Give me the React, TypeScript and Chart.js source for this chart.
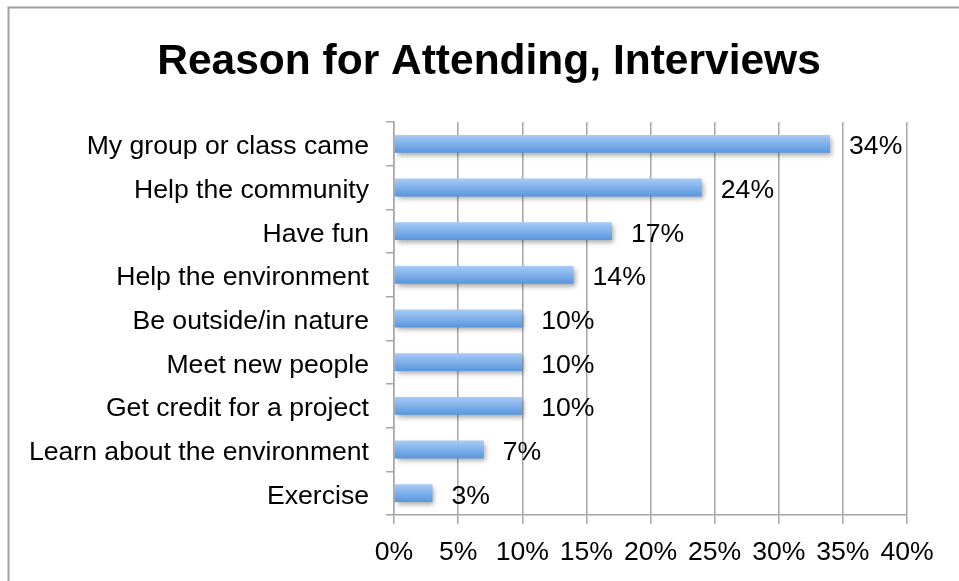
import React, { useEffect, useRef } from "react";
import { Chart, registerables } from "chart.js";

Chart.register(...registerables);

const TITLE = "Reason for Attending, Interviews";
const categories = [
  "My group or class came",
  "Help the community",
  "Have fun",
  "Help the environment",
  "Be outside/in nature",
  "Meet new people",
  "Get credit for a project",
  "Learn about the environment",
  "Exercise",
];
const values = [34, 24, 17, 14, 10, 10, 10, 7, 3];
const xTickMin = 0;
const xTickMax = 40;
const xTickStep = 5;

const FONT = "'Liberation Sans', Arial, Helvetica, sans-serif";
const GRID = "#a6a6a6";
const LABEL_SIZE = 26.6;

const framePlugin = {
  id: "frame",
  beforeDraw(chart: any) {
    const ctx = chart.ctx;
    ctx.save();
    ctx.fillStyle = "#ffffff";
    ctx.fillRect(0, 0, chart.width, chart.height);
    ctx.strokeStyle = "#a0a0a0";
    ctx.lineWidth = 2;
    ctx.beginPath();
    ctx.moveTo(8.5, chart.height);
    ctx.lineTo(8.5, 7.5);
    ctx.lineTo(chart.width, 7.5);
    ctx.stroke();
    ctx.restore();
  },
};

const titlePlugin = {
  id: "customTitle",
  afterDraw(chart: any) {
    const ctx = chart.ctx;
    ctx.save();
    ctx.font = `bold 42.5px ${FONT}`;
    ctx.fillStyle = "#000";
    ctx.textAlign = "center";
    ctx.textBaseline = "middle";
    ctx.fillText(TITLE, 489, 62);
    ctx.restore();
  },
};

const shadowPlugin = {
  id: "barShadow",
  beforeDatasetsDraw(chart: any) {
    const ctx = chart.ctx;
    ctx.save();
    ctx.shadowColor = "rgba(0,0,0,0.35)";
    ctx.shadowBlur = 5;
    ctx.shadowOffsetX = 2;
    ctx.shadowOffsetY = 3;
  },
  afterDatasetsDraw(chart: any) {
    chart.ctx.restore();
  },
};

const labelPlugin = {
  id: "valueLabels",
  afterDatasetsDraw(chart: any) {
    const ctx = chart.ctx;
    const meta = chart.getDatasetMeta(0);
    ctx.save();
    ctx.font = `${LABEL_SIZE}px ${FONT}`;
    ctx.fillStyle = "#000";
    ctx.textAlign = "left";
    ctx.textBaseline = "middle";
    meta.data.forEach((el: any, i: number) => {
      ctx.fillText(`${values[i]}%`, el.x + 19, el.y + 3);
    });
    ctx.restore();
  },
};

export default function App() {
  const ref = useRef<HTMLCanvasElement>(null);
  useEffect(() => {
    if (!ref.current) return;
    const barPct = 0.41;
    const chart = new Chart(ref.current, {
      type: "bar",
      data: {
        labels: categories,
        datasets: [
          {
            data: values,
            backgroundColor: (c: any) => {
              const ch = c.chart;
              const ys = ch.scales && ch.scales.y;
              if (!ys || c.dataIndex === undefined || !ch.chartArea) return "#7fb0ea";
              const yc = ys.getPixelForValue(c.dataIndex);
              const band = Math.abs(ys.getPixelForValue(1) - ys.getPixelForValue(0)) || 43;
              const h = band * barPct;
              const g = ch.ctx.createLinearGradient(0, yc - h / 2, 0, yc + h / 2);
              g.addColorStop(0, "#a8cbf6");
              g.addColorStop(1, "#5796dd");
              return g;
            },
            borderWidth: 0,
            barPercentage: barPct,
            categoryPercentage: 1,
          },
        ],
      },
      options: {
        indexAxis: "y",
        responsive: false,
        animation: false,
        devicePixelRatio: 1,
        layout: { padding: { top: 122, left: 0, right: 52, bottom: 0 } },
        plugins: {
          legend: { display: false },
          title: { display: false },
          tooltip: { enabled: false },
        },
        scales: {
          x: {
            min: xTickMin,
            max: xTickMax,
            ticks: {
              stepSize: xTickStep,
              callback: (v: any) => `${v}%`,
              font: { family: FONT, size: LABEL_SIZE },
              color: "#000",
              padding: 13,
              maxRotation: 0,
              autoSkip: false,
            },
            grid: { color: GRID, lineWidth: 1.5, tickLength: 9, drawTicks: true },
            border: { display: true, color: GRID, width: 1.5 },
            afterFit: (s: any) => {
              s.height = 581 - 515;
              s.paddingRight = 0;
              s.paddingLeft = 0;
            },
          },
          y: {
            ticks: {
              font: { family: FONT, size: LABEL_SIZE },
              color: "#000",
              padding: 17,
              labelOffset: 3,
              autoSkip: false,
            },
            grid: {
              offset: true,
              drawOnChartArea: false,
              drawTicks: true,
              tickLength: 8,
              color: GRID,
              lineWidth: 1.5,
            },
            border: { display: true, color: GRID, width: 1.5 },
            afterFit: (s: any) => {
              s.width = 394;
              s.paddingTop = 0;
              s.paddingBottom = 0;
            },
          },
        },
      },
      plugins: [framePlugin, shadowPlugin, labelPlugin, titlePlugin],
    } as any);
    return () => chart.destroy();
  }, []);
  return (
    <div style={{ position: "fixed", left: 0, top: 0, width: 959, height: 581, background: "#fff" }}>
      <canvas ref={ref} width={959} height={581} style={{ display: "block" }} />
    </div>
  );
}
